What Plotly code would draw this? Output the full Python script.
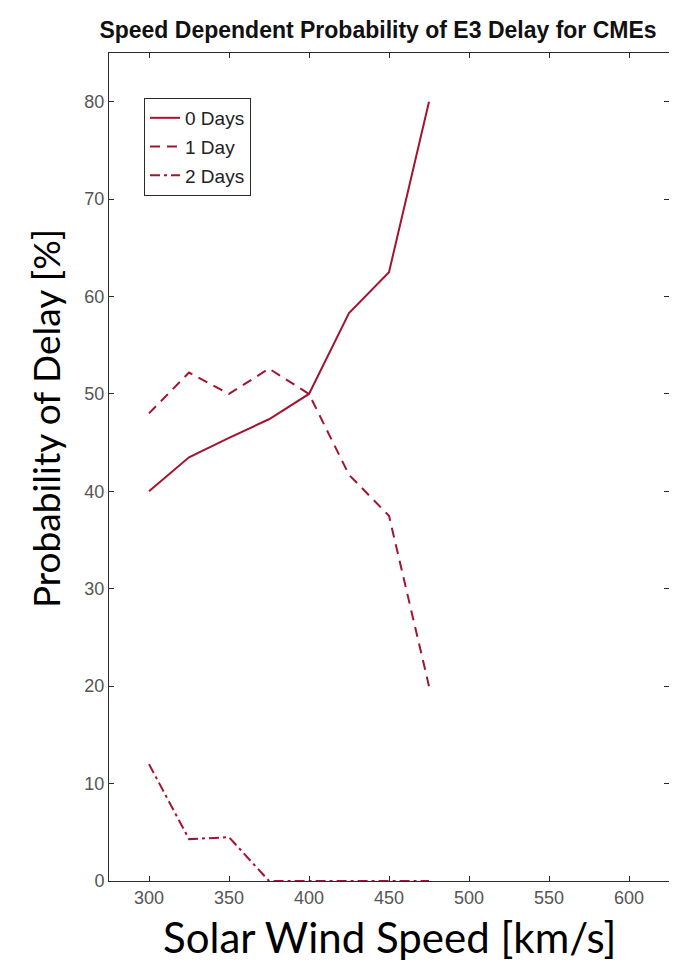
import plotly.graph_objects as go

speed = [300, 325, 350, 375, 400, 425, 450, 475]
days0 = [40.0, 43.5, 45.5, 47.4, 50.0, 58.3, 62.5, 80.0]
days1 = [48.0, 52.2, 50.0, 52.6, 50.0, 41.7, 37.5, 20.0]
days2 = [12.0, 4.3, 4.5, 0.0, 0.0, 0.0, 0.0, 0.0]
series_names = ["0 Days", "1 Day", "2 Days"]
x_ticks = [300, 350, 400, 450, 500, 550, 600]
y_ticks = [0, 10, 20, 30, 40, 50, 60, 70, 80]

RED = "#A2142F"
AX = "#2b2b2b"
TICKC = "#555555"
FONT = "Liberation Sans, Arial, sans-serif"

fig = go.Figure()
dashes = ["solid", "10px,7px", "10px,4px,3px,4px"]
for i, (name, vals) in enumerate(zip(series_names, [days0, days1, days2])):
    fig.add_trace(go.Scatter(
        x=speed, y=vals, mode="lines", name=name,
        legendgroup=name,
        line=dict(color=RED, width=2, dash=dashes[i]),
    ))

fig.update_layout(
    width=677, height=965,
    margin=dict(l=101, r=16, t=45, b=92),
    paper_bgcolor="white", plot_bgcolor="white",
    title=dict(
        text="<b>Speed Dependent Probability of E3 Delay for CMEs</b>",
        font=dict(family=FONT, size=23, color="#111111"),
        x=370 / 677, xref="container", xanchor="center",
        y=1 - 22 / 965, yref="container", yanchor="middle",
    ),
    showlegend=True,
    legend=dict(
        x=0.0625, y=0.9457, xanchor="left", yanchor="top",
        bgcolor="white", bordercolor=AX, borderwidth=1,
        font=dict(family=FONT, size=19, color="#222222"),
        tracegroupgap=1,
    ),
    xaxis=dict(
        range=[275, 625], tickvals=x_ticks, ticktext=[str(v) for v in x_ticks],
        showgrid=False, zeroline=False,
        showline=True, linecolor=AX, linewidth=1, mirror="ticks",
        ticks="inside", ticklen=5, tickcolor=AX,
        tickfont=dict(family=FONT, size=18, color=TICKC),
    ),
    yaxis=dict(
        range=[0, 85], tickvals=y_ticks, ticktext=[str(v) for v in y_ticks],
        showgrid=False, zeroline=False,
        showline=True, linecolor=AX, linewidth=1, mirror="ticks",
        ticks="inside", ticklen=5, tickcolor=AX,
        tickfont=dict(family=FONT, size=18, color=TICKC),
    ),
    annotations=[
        dict(text="Solar Wind Speed [km/s]", xref="paper", yref="paper",
             x=0.5, y=(873 - 929) / 828, xanchor="center", yanchor="middle",
             showarrow=False, font=dict(family="Lato, sans-serif", size=42, color="black")),
        dict(text="Probability of Delay [%]", xref="paper", yref="paper",
             x=(38 - 101) / 560, y=(873 - 411) / 828, xanchor="center", yanchor="middle",
             textangle=-90,
             showarrow=False, font=dict(family="Lato, sans-serif", size=37, color="black")),
    ],
)

fig.write_html("out.html")
